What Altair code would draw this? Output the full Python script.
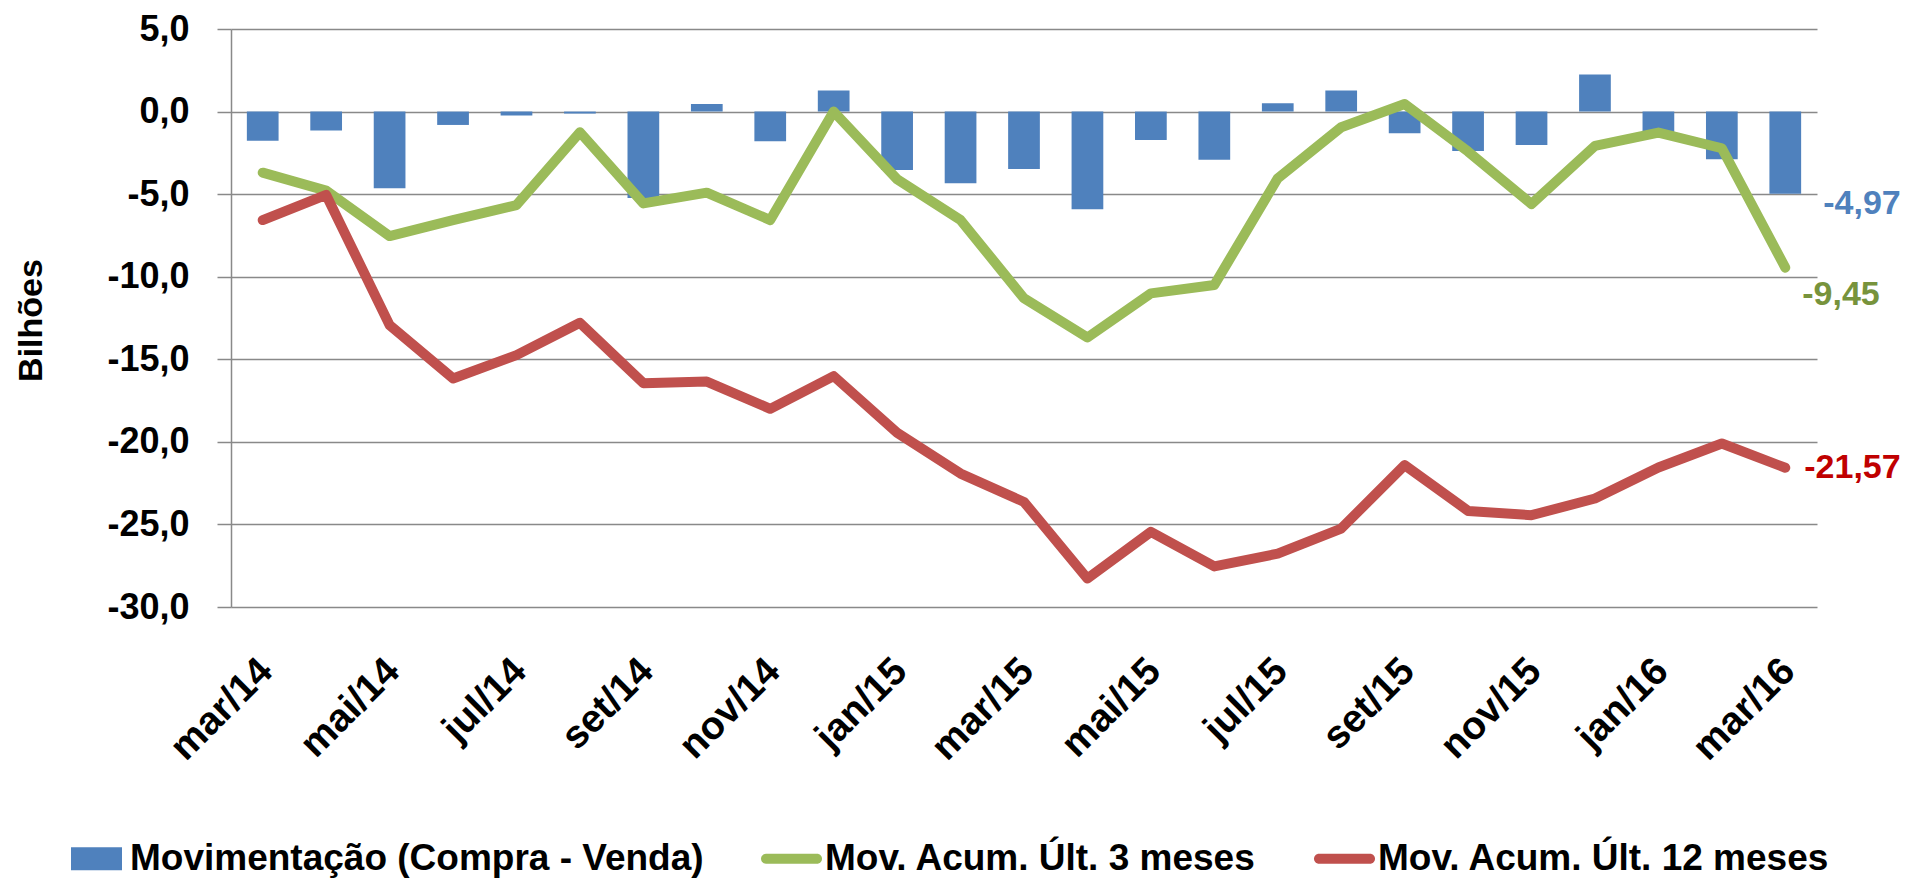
import altair as alt
import pandas as pd

# ---------------- data ----------------
months = ["mar/14", "abr/14", "mai/14", "jun/14", "jul/14", "ago/14", "set/14",
          "out/14", "nov/14", "dez/14", "jan/15", "fev/15", "mar/15", "abr/15",
          "mai/15", "jun/15", "jul/15", "ago/15", "set/15", "out/15", "nov/15",
          "dez/15", "jan/16", "fev/16", "mar/16"]
tick_labels = ["mar/14", "mai/14", "jul/14", "set/14", "nov/14", "jan/15", "mar/15",
               "mai/15", "jul/15", "set/15", "nov/15", "jan/16", "mar/16"]
movimentacao = [-1.76, -1.15, -4.65, -0.81, -0.24, -0.12, -5.23, 0.46, -1.80, 1.27,
                -3.54, -4.34, -3.47, -5.92, -1.72, -2.91, 0.51, 1.27, -1.31, -2.38,
                -2.02, 2.24, -1.50, -2.89, -4.97]
acum3 = [-3.70, -4.79, -7.54, -6.57, -5.66, -1.25, -5.56, -4.91, -6.57, 0.00,
         -4.10, -6.57, -11.31, -13.68, -11.01, -10.50, -4.04, -0.95, 0.46, -2.42,
         -5.60, -2.08, -1.27, -2.22, -9.45]
acum12 = [-6.57, -5.05, -12.93, -16.16, -14.75, -12.79, -16.45, -16.35, -18.00, -16.02,
          -19.45, -21.92, -23.64, -28.28, -25.45, -27.54, -26.77, -25.25, -21.41, -24.18,
          -24.44, -23.43, -21.55, -20.10, -21.57]
y_ticks = [5, 0, -5, -10, -15, -20, -25, -30]
series_names = ["Movimentação (Compra - Venda)", "Mov. Acum. Últ. 3 meses",
                "Mov. Acum. Últ. 12 meses"]
series_colors = ["#4F81BD", "#9BBB59", "#C0504D"]
label_colors = ["#4F81BD", "#77933C", "#C00000"]

# ---------------- styles ----------------
FONT = "Liberation Sans"
GRAY = "#898989"
W, H = 1586, 578

df = pd.DataFrame({"mes": months, "mov": movimentacao, "a3": acum3, "a12": acum12})
legend_df = pd.DataFrame({"serie": series_names})

num_expr = "replace(replace(format({v}, '{f}'), '.', ','), '\u2212', '-')"

x_enc = alt.X(
    "mes:N", sort=months, title=None,
    scale=alt.Scale(paddingInner=0.5, paddingOuter=0.25),
    axis=alt.Axis(values=tick_labels, labelAngle=315, labelAlign="right",
                  labelBaseline="top", labelPadding=44, labelOffset=-10,
                  ticks=False, tickSize=0, domain=False, grid=False,
                  labelOverlap=False, labelFont=FONT, labelFontSize=39,
                  labelFontWeight="bold", labelColor="black"),
)
y_scale = alt.Scale(domain=[-30, 5], nice=False, zero=False)
y_axis = alt.Axis(values=y_ticks,
                  labelExpr=num_expr.format(v="datum.value", f=".1f"),
                  grid=True, gridColor=GRAY, gridWidth=1.5,
                  domainColor=GRAY, domainWidth=1.5,
                  tickColor=GRAY, tickWidth=1.5, tickSize=14,
                  labelPadding=28, labelFont=FONT, labelFontSize=36,
                  labelFontWeight="bold", labelColor="black",
                  titleFont=FONT, titleFontSize=34, titleFontWeight="bold",
                  titleColor="black", titleAngle=270, titleX=-200, titleY=291,
                  titleAlign="center", titleBaseline="middle")


def y_enc(field):
    return alt.Y(field + ":Q", scale=y_scale, title="Bilhões", axis=y_axis)


base = alt.Chart(df)

bars = base.mark_bar(color=series_colors[0]).encode(
    x=x_enc, y=y_enc("mov"), y2=alt.datum(0))

line3 = base.mark_line(color=series_colors[1], strokeWidth=10, strokeCap="round",
                       strokeJoin="round").encode(x=x_enc, y=y_enc("a3"))
line12 = base.mark_line(color=series_colors[2], strokeWidth=10, strokeCap="round",
                        strokeJoin="round").encode(x=x_enc, y=y_enc("a12"))


def end_label(field, color, dx, dy):
    return base.transform_filter(alt.datum.mes == months[-1]).transform_calculate(
        lbl=num_expr.format(v="datum." + field, f=".2f")
    ).mark_text(align="left", baseline="middle", dx=dx, dy=dy, font=FONT,
                fontSize=34, fontWeight="bold", color=color).encode(
        x=x_enc, y=y_enc(field), text="lbl:N")


lab_mov = end_label("mov", label_colors[0], 38, 10)
lab_a3 = end_label("a3", label_colors[1], 17, 27)
lab_a12 = end_label("a12", label_colors[2], 19, 0)

rect_path = "M-0.836,-0.377L0.836,-0.377L0.836,0.377L-0.836,0.377Z"
line_path = ("M-0.836,-0.164L0.836,-0.164A0.164,0.164 0 0 1 0.836,0.164"
             "L-0.836,0.164A0.164,0.164 0 0 1 -0.836,-0.164Z")

leg = dict(orient="none", legendX=-165, legendY=799, direction="horizontal",
           title=None, symbolSize=3721, symbolOpacity=1, symbolStrokeWidth=0,
           labelFont=FONT, labelFontSize=37, labelFontWeight="bold",
           labelColor="black", labelOffset=3, columnPadding=57, labelLimit=2000,
           padding=0)

legend_layer = alt.Chart(legend_df).mark_point(filled=True, opacity=0).encode(
    color=alt.Color("serie:N", sort=series_names, title=None,
                    scale=alt.Scale(domain=series_names, range=series_colors),
                    legend=alt.Legend(**leg)),
    shape=alt.Shape("serie:N", sort=series_names, title=None,
                    scale=alt.Scale(domain=series_names,
                                    range=[rect_path, line_path, line_path]),
                    legend=alt.Legend(**leg)),
)

chart = alt.layer(bars, line3, line12, lab_mov, lab_a3, lab_a12, legend_layer).properties(
    width=W, height=H,
    padding={"left": 223, "top": 21, "right": 85, "bottom": 273},
    autosize=alt.AutoSizeParams(type="none"),
    background="white",
).configure_view(stroke=None)

chart.save("out.html", embed_options={"renderer": "svg", "actions": False})
